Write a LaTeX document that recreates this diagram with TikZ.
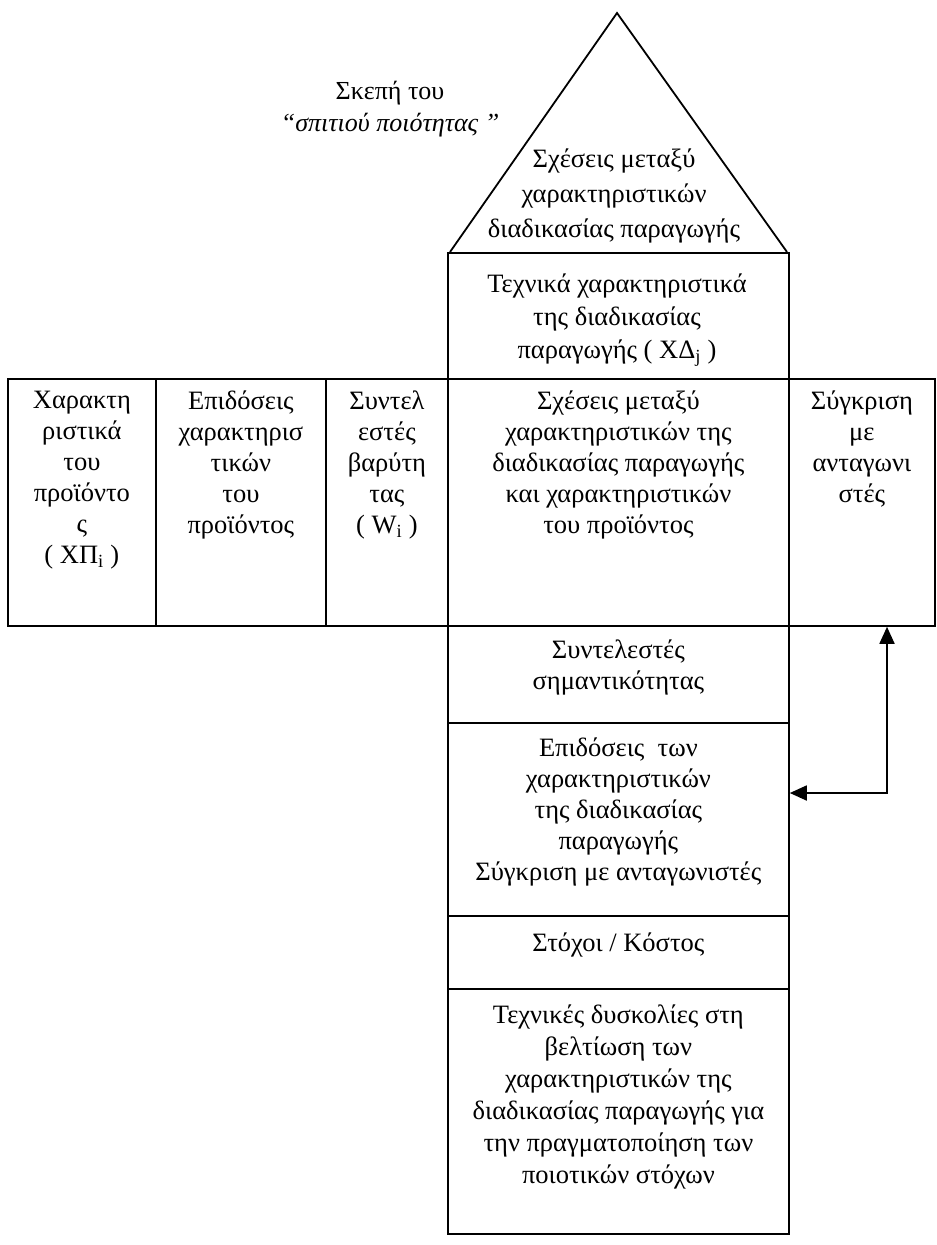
\documentclass[tikz,border=0pt]{standalone}
\usepackage{fontspec}
\setmainfont{Liberation Serif}
\usetikzlibrary{arrows.meta}
\tikzset{
  frame/.style={draw, line width=1.8pt, inner sep=0pt, anchor=north west},
  lbl/.style={align=center, inner sep=0pt, anchor=north, font=\fontsize{26.5}{31}\selectfont},
  link/.style={line width=1.8pt, {Triangle[length=17pt,width=15pt]}-{Triangle[length=17pt,width=15pt]}}
}
\begin{document}
\begin{tikzpicture}[x=1pt,y=-1pt]
\useasboundingbox (0,0) rectangle (937,1245);

% roof of the house
\coordinate (apex) at (617,13);
\coordinate (eaveL) at (450,252);
\coordinate (eaveR) at (787,252);
\draw[line width=1.8pt] (eaveL) -- (apex) -- (eaveR);

% central column and the wide row
\node[frame, minimum width=341pt, minimum height=126pt] (tech) at (447,252) {};
\node[frame, minimum width=148pt, minimum height=247pt] (c1) at (7,378) {};
\node[frame, minimum width=170pt, minimum height=247pt] (c2) at (155,378) {};
\node[frame, minimum width=122pt, minimum height=247pt] (c3) at (325,378) {};
\node[frame, minimum width=341pt, minimum height=247pt] (rel) at (447,378) {};
\node[frame, minimum width=146pt, minimum height=247pt] (cmp) at (788,378) {};
\node[frame, minimum width=341pt, minimum height=97pt] (imp) at (447,625) {};
\node[frame, minimum width=341pt, minimum height=193pt] (perf) at (447,722) {};
\node[frame, minimum width=341pt, minimum height=73pt] (goal) at (447,915) {};
\node[frame, minimum width=341pt, minimum height=245pt] (diff) at (447,988) {};

% texts
\node[lbl, font=\fontsize{26}{32}\selectfont] (cap) at (390,81) {Σκεπή του\\\textit{“σπιτιού ποιότητας ”}};
\node[lbl, font=\fontsize{26.5}{35}\selectfont] (roofT) at (614,149) {Σχέσεις μεταξύ\\χαρακτηριστικών\\διαδικασίας παραγωγής};
\node[lbl, font=\fontsize{26.5}{33}\selectfont] (techT) at (617,274) {Τεχνικά χαρακτηριστικά\\της διαδικασίας\\παραγωγής ( ΧΔ\textsubscript{j} )};
\node[lbl] (c1T) at (c1.north |- 0,391) {Χαρακτη\\ριστικά\\του\\προϊόντο\\ς\\( ΧΠ\textsubscript{i} )};
\node[lbl] (c2T) at (c2.north |- 0,391) {Επιδόσεις\\χαρακτηρισ\\τικών\\του\\προϊόντος};
\node[lbl] (c3T) at (c3.north |- 0,391) {Συντελ\\εστές\\βαρύτη\\τας\\( W\textsubscript{i} )};
\node[lbl] (relT) at (rel.north |- 0,391) {Σχέσεις μεταξύ\\χαρακτηριστικών της\\διαδικασίας παραγωγής\\και χαρακτηριστικών\\του προϊόντος};
\node[lbl] (cmpT) at (cmp.north |- 0,391) {Σύγκριση\\με\\ανταγωνι\\στές};
\node[lbl] (impT) at (imp.north |- 0,640) {Συντελεστές\\σημαντικότητας};
\node[lbl] (perfT) at (perf.north |- 0,738) {Επιδόσεις\ \ των\\χαρακτηριστικών\\της διαδικασίας\\παραγωγής\\Σύγκριση με ανταγωνιστές};
\node[lbl] (goalT) at (goal.north |- 0,933) {Στόχοι / Κόστος};
\node[lbl, font=\fontsize{26.5}{32}\selectfont] (diffT) at (diff.north |- 0,1005) {Τεχνικές δυσκολίες στη\\βελτίωση των\\χαρακτηριστικών της\\διαδικασίας παραγωγής για\\την πραγματοποίηση των\\ποιοτικών στόχων};

% feedback link between the comparison column and the performance box
\coordinate (turn) at (887,793);
\draw[link] (perf.east |- turn) -- (turn) -- (turn |- cmp.south);
\end{tikzpicture}
\end{document}
